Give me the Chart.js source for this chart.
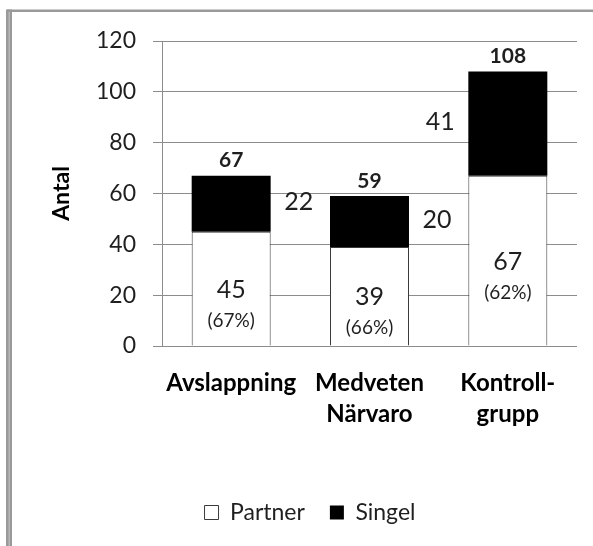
<!DOCTYPE html>
<html>
<head>
<meta charset="utf-8">
<script src="https://cdn.jsdelivr.net/npm/chart.js@4/dist/chart.umd.min.js"></script>
<style>
  html, body { margin: 0; padding: 0; background: #fff; }
  canvas { display: block; }
</style>
</head>
<body>
<canvas id="chart" width="593" height="546"></canvas>
<script>
// Group categories (multi-line labels as arrays)
const categories = ['Avslappning', ['Medveten', 'Närvaro'], ['Kontroll-', 'grupp']];
// Number of participants living with a partner / single, per group
const partnerValues = [45, 39, 67];
const singelValues = [22, 20, 41];
// Y axis tick values
const yTicks = [0, 20, 40, 60, 80, 100, 120];

const FONT = 'Lato, "Open Sans", sans-serif';
const TEXT = '#1f1f1f';
const GRID = '#8c8c8c';

// Which side of the bar each "Singel" count is written on
const singelLabelSide = ['right', 'right', 'left'];

const framePlugin = {
  id: 'frame',
  beforeDraw(chart) {
    const ctx = chart.ctx;
    ctx.save();
    ctx.fillStyle = '#ffffff';
    ctx.fillRect(0, 0, chart.width, chart.height);
    // outer frame: top rule and double left rule
    ctx.fillStyle = '#9a9a9a';
    ctx.fillRect(7, 9.5, chart.width - 7, 2.5);
    ctx.fillRect(6, 9.5, 6, chart.height - 9.5);
    ctx.fillStyle = '#b8b8b8';
    ctx.fillRect(8.5, 12, 1.5, chart.height - 12);
    ctx.restore();
  }
};

const valueLabelPlugin = {
  id: 'valueLabels',
  afterDatasetsDraw(chart) {
    const ctx = chart.ctx;
    const partnerMeta = chart.getDatasetMeta(0);
    const singelMeta = chart.getDatasetMeta(1);
    ctx.save();
    ctx.textAlign = 'center';
    ctx.textBaseline = 'middle';
    ctx.fillStyle = TEXT;
    categories.forEach((_, i) => {
      const p = partnerMeta.data[i].getProps(['x', 'y', 'base', 'width'], true);
      const s = singelMeta.data[i].getProps(['x', 'y', 'base', 'width'], true);
      const total = partnerValues[i] + singelValues[i];
      const pct = Math.round(partnerValues[i] / total * 100);

      // partner count and share, inside the white segment
      const pMid = (p.y + p.base) / 2;
      ctx.font = '25px ' + FONT;
      ctx.fillText(String(partnerValues[i]), p.x, pMid + 1);
      ctx.font = '19px ' + FONT;
      ctx.fillText('(' + pct + '%)', p.x, pMid + 32);

      // single count, beside the black segment
      const sMid = (s.y + s.base) / 2;
      const dx = s.width / 2 + 28;
      ctx.font = '25px ' + FONT;
      ctx.fillText(String(singelValues[i]), singelLabelSide[i] === 'left' ? s.x - dx : s.x + dx, sMid - 2);

      // total above the stack
      ctx.font = 'bold 21px ' + FONT;
      ctx.fillText(String(total), s.x, s.y - 15);
    });
    ctx.restore();
  }
};

new Chart(document.getElementById('chart'), {
  type: 'bar',
  data: {
    labels: categories,
    datasets: [
      {
        label: 'Partner',
        data: partnerValues,
        backgroundColor: '#ffffff',
        borderColor: '#3a3a3a',
        borderWidth: 1,
        categoryPercentage: 1,
        barPercentage: 0.571
      },
      {
        label: 'Singel',
        data: singelValues,
        backgroundColor: '#000000',
        borderColor: '#000000',
        borderWidth: 0,
        categoryPercentage: 1,
        barPercentage: 0.571
      }
    ]
  },
  options: {
    responsive: false,
    animation: false,
    layout: { padding: { left: 43, right: 16, top: 41, bottom: 12 } },
    plugins: {
      tooltip: { enabled: false },
      legend: {
        position: 'bottom',
        labels: {
          boxWidth: 14,
          boxHeight: 14,
          padding: 25,
          color: TEXT,
          font: { family: FONT, size: 23 }
        }
      }
    },
    scales: {
      x: {
        stacked: true,
        grid: { display: false, drawTicks: false },
        border: { display: false },
        ticks: {
          color: '#000',
          padding: 22,
          font: { family: FONT, size: 24, weight: 'bold', lineHeight: '31px' }
        },
        afterFit(scale) { scale.height = 130; }
      },
      y: {
        stacked: true,
        min: 0,
        max: 120,
        afterBuildTicks(scale) { scale.ticks = yTicks.map(v => ({ value: v })); },
        grid: { color: GRID, lineWidth: 1, tickLength: 9 },
        border: { color: GRID },
        ticks: {
          color: TEXT,
          padding: 17,
          font: { family: FONT, size: 23 }
        },
        title: {
          display: true,
          text: 'Antal',
          color: '#000',
          font: { family: FONT, size: 23, weight: 'bold', lineHeight: 1.2 },
          padding: { top: 5, bottom: 0 }
        },
        afterFit(scale) { scale.width = 119; }
      }
    }
  },
  plugins: [framePlugin, valueLabelPlugin]
});
</script>
</body>
</html>
